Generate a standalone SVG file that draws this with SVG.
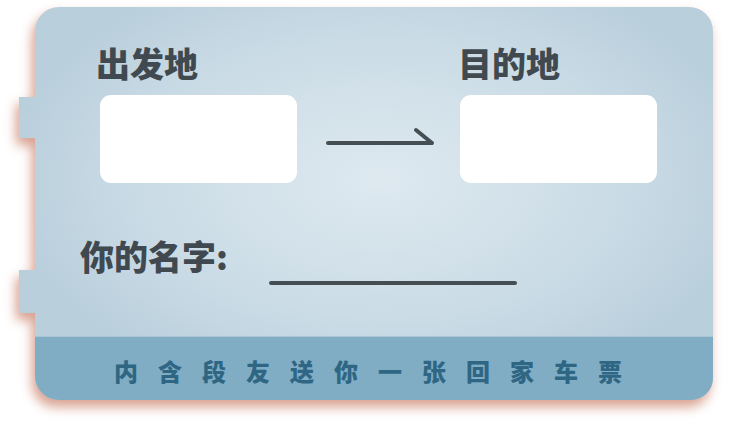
<svg xmlns="http://www.w3.org/2000/svg" width="736" height="436" viewBox="0 0 736 436">
  <style>
    .title { font-family: "Noto Sans CJK SC", "Noto Sans", sans-serif; font-weight: 900; font-size: 34px; fill: #40494f; }
    .band { font-family: "Noto Sans CJK SC", "Noto Sans", sans-serif; font-weight: 900; font-size: 24px; fill: #2e6683; letter-spacing: 20px; }
    .field { fill: #ffffff; }
    .ink { fill: none; stroke: #454e53; stroke-width: 4; stroke-linecap: round; stroke-linejoin: round; }
  </style>
  <defs>
    <path id="cardShape" d="M59,7 H689 A24,24 0 0 1 713,31 V378 A22,22 0 0 1 691,400 H59 A24,24 0 0 1 35,376 V313 H19 V270 H35 V138 H19 V97 H35 V31 A24,24 0 0 1 59,7 Z"/>
    <clipPath id="cardClip"><use href="#cardShape"/></clipPath>
    <radialGradient id="cardFill" cx="380" cy="180" r="380" gradientUnits="userSpaceOnUse" gradientTransform="translate(380 180) scale(1 0.6) translate(-380 -180)">
      <stop offset="0" stop-color="#dee9f0"/>
      <stop offset="0.6" stop-color="#cbdce6"/>
      <stop offset="1" stop-color="#b9cfdc"/>
    </radialGradient>
    <filter id="shadowBlur" x="-10%" y="-10%" width="120%" height="130%">
      <feGaussianBlur stdDeviation="6"/>
    </filter>
  </defs>

  <g id="card">
    <use href="#cardShape" transform="translate(-3 7)" fill="#cf8a74" opacity="0.8" filter="url(#shadowBlur)"/>
    <use href="#cardShape" fill="url(#cardFill)"/>
    <g clip-path="url(#cardClip)">
      <rect x="0" y="336" width="736" height="2" fill="#a9c4d3"/>
      <rect x="0" y="337" width="736" height="70" fill="#80adc4"/>
    </g>
  </g>

  <g id="origin">
    <text class="title" x="96" y="77">出发地</text>
    <rect class="field" x="100" y="95" width="197" height="88" rx="11"/>
  </g>

  <g id="destination">
    <text class="title" x="458" y="77">目的地</text>
    <rect class="field" x="460" y="95" width="197" height="88" rx="11"/>
  </g>

  <g id="name">
    <text class="title" x="80" y="270">你的名字:</text>
    <line class="ink" x1="271" y1="283" x2="515" y2="283"/>
  </g>

  <g id="connectors">
    <path class="ink" d="M328,143 H432 M416,130 L432,143"/>
  </g>

  <g id="footer">
    <text class="band" x="114" y="381">内含段友送你一张回家车票</text>
  </g>
</svg>
